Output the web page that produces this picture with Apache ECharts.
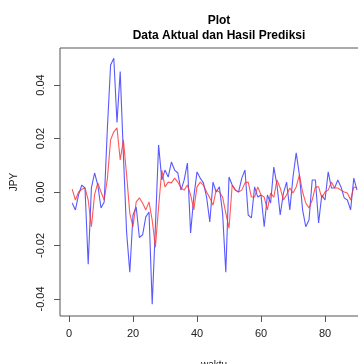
<!DOCTYPE html>
<html><head><meta charset="utf-8">
<script src="https://cdn.jsdelivr.net/npm/echarts@6/dist/echarts.min.js"></script>
<style>html,body{margin:0;padding:0;background:#fff}#c{width:358px;height:364px}</style>
</head><body><div id="c"></div>
<script>
const aktual = [-0.0041,-0.0067,-0.0010,0.0026,0.0015,-0.0270,0.0015,0.0071,0.0026,-0.0060,
-0.0037,0.0240,0.0475,0.0500,0.0260,0.0450,0.0138,-0.0150,-0.0300,-0.0086,
-0.0056,-0.0170,-0.0160,-0.0093,-0.0075,-0.0420,-0.0130,0.0176,0.0045,0.0082,
0.0056,0.0112,0.0082,0.0071,0.0007,0.0045,0.0108,-0.0153,-0.0019,0.0075,
0.0052,0.0034,-0.0019,-0.0112,0.0037,0.0000,0.0019,-0.0079,-0.0300,0.0056,
0.0026,0.0007,0.0000,0.0052,0.0082,-0.0086,-0.0097,0.0019,-0.0019,-0.0011,
-0.0130,-0.0011,-0.0041,0.0093,0.0026,-0.0086,-0.0004,0.0037,-0.0067,0.0056,
0.0146,0.0064,-0.0067,-0.0130,-0.0105,0.0045,0.0045,-0.0116,-0.0011,-0.0030,
0.0075,0.0015,0.0015,0.0045,0.0019,-0.0022,-0.0030,-0.0067,0.0052,0.0007];
const prediksi = [0.0011,-0.0030,0.0000,0.0010,0.0015,-0.0030,-0.0130,-0.0010,0.0034,0.0000,
-0.0030,0.0050,0.0195,0.0225,0.0240,0.0120,0.0195,0.0064,-0.0080,-0.0130,
-0.0037,-0.0022,-0.0041,-0.0067,-0.0037,-0.0105,-0.0206,-0.0056,0.0082,0.0019,
0.0037,0.0034,0.0052,0.0037,0.0015,0.0007,0.0026,-0.0011,-0.0067,0.0019,
0.0037,0.0026,0.0000,-0.0022,-0.0049,0.0007,0.0000,-0.0019,-0.0079,-0.0135,
0.0026,0.0007,0.0000,0.0007,0.0034,0.0037,-0.0019,-0.0019,0.0019,-0.0011,
-0.0019,-0.0067,-0.0004,-0.0019,0.0045,0.0015,-0.0030,-0.0010,0.0015,-0.0004,
0.0019,0.0064,0.0000,-0.0041,-0.0060,-0.0030,0.0019,0.0019,-0.0022,0.0000,
0.0007,0.0037,0.0015,0.0015,0.0007,0.0000,-0.0004,-0.0030,0.0019,0.0015];
const xTicks = [0,20,40,60,80];
const yTicks = [-0.04,-0.02,0,0.02,0.04];
const yTickLabels = ['-0.04','-0.02','0.00','0.02','0.04'];

const FONT = '"Liberation Sans", Arial, sans-serif';
const chart = echarts.init(document.getElementById('c'), null, {renderer:'canvas'});
chart.setOption({
  animation:false,
  backgroundColor:'#fff',
  title:{
    text:'Plot\nData Aktual dan Hasil Prediksi',
    left:214, top:8, textAlign:'center',
    textStyle:{fontFamily:FONT,fontSize:12,fontWeight:'bold',color:'#000',lineHeight:15}
  },
  grid:{left:60, top:48, width:308, height:268, show:true, borderColor:'#555', borderWidth:1,
        backgroundColor:'transparent', outerBoundsMode:'none', containLabel:false},
  xAxis:{
    type:'value', min:-2.8125, max:93.4375,
    name:'waktu', nameLocation:'middle', nameGap:44,
    nameTextStyle:{fontFamily:FONT,fontSize:10,color:'#222'},
    axisLine:{show:false, onZero:false},
    axisTick:{show:true, customValues:xTicks, length:6, lineStyle:{color:'#555'}},
    axisLabel:{customValues:xTicks, margin:12, fontFamily:FONT, fontSize:11, color:'#222'},
    splitLine:{show:false}
  },
  yAxis:{
    type:'value', min:-0.04636, max:0.05383,
    name:'JPY', nameLocation:'middle', nameGap:41, nameRotate:90,
    nameTextStyle:{fontFamily:FONT,fontSize:10,color:'#222'},
    axisLine:{show:false, onZero:false},
    axisTick:{show:true, customValues:yTicks, length:6, lineStyle:{color:'#555'}},
    axisLabel:{customValues:yTicks, rotate:90, margin:14, fontFamily:FONT, fontSize:11, color:'#222',
      formatter:function(v){ const i = yTicks.findIndex(t=>Math.abs(t-v)<1e-9); return i>=0?yTickLabels[i]:''; }},
    splitLine:{show:false}
  },
  series:[
    {type:'line', data:aktual.map((v,i)=>[i+1,v]), showSymbol:false, symbol:'none',
     lineStyle:{color:'#2f2fff', width:1.1, opacity:0.8}, z:2},
    {type:'line', data:prediksi.map((v,i)=>[i+1,v]), showSymbol:false, symbol:'none',
     lineStyle:{color:'#ff2f2f', width:1.1, opacity:0.8}, z:3}
  ]
});
</script></body></html>
